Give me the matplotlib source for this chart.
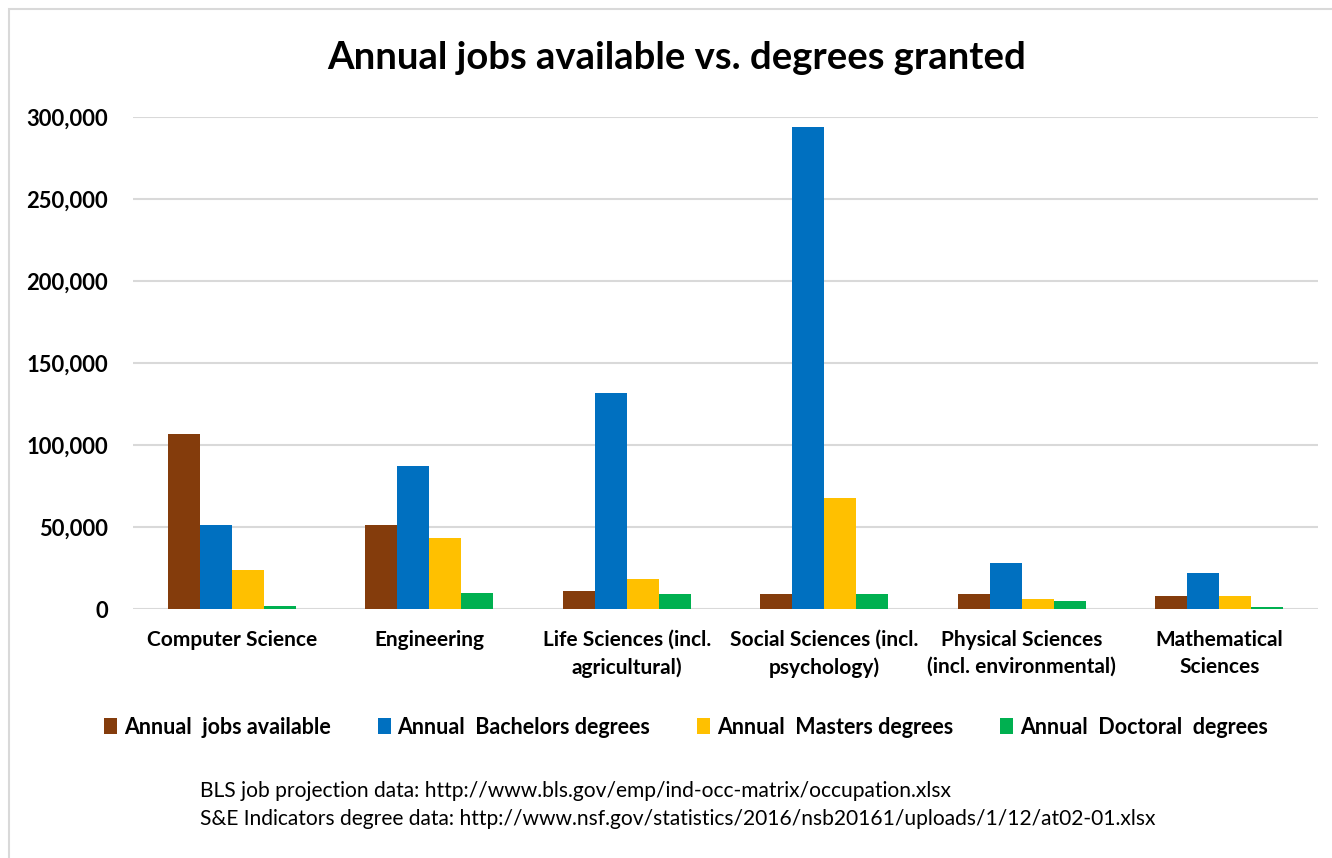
import numpy as np
import matplotlib.pyplot as plt
from matplotlib.patches import Rectangle
from matplotlib.ticker import FuncFormatter

plt.rcParams["font.family"] = ["Lato", "DejaVu Sans"]

categories = [
    "Computer Science",
    "Engineering",
    "Life Sciences (incl.\nagricultural)",
    "Social Sciences (incl.\npsychology)",
    "Physical Sciences\n(incl. environmental)",
    "Mathematical\nSciences",
]
jobs = [107000, 51000, 11000, 9000, 9000, 8000]
bachelors = [51000, 87000, 132000, 294000, 28000, 22000]
masters = [23500, 43500, 18000, 67500, 6000, 8000]
doctoral = [2000, 10000, 9000, 9000, 5000, 1500]

series = [
    ("Annual  jobs available", jobs, "#843C0C"),
    ("Annual  Bachelors degrees", bachelors, "#0070C0"),
    ("Annual  Masters degrees", masters, "#FFC000"),
    ("Annual  Doctoral  degrees", doctoral, "#00B050"),
]

W, H = 1332, 858
fig = plt.figure(figsize=(W / 100, H / 100), dpi=100)

# light chart frame
fig.patches.append(Rectangle((9 / W, -0.1), 1.2, 1 - 9 / H + 0.1,
                             transform=fig.transFigure, fill=False,
                             edgecolor="#d9d9d9", linewidth=1.5))

ax = fig.add_axes([133 / W, 1 - 609 / H, (1318 - 133) / W, (609 - 117) / H])

x = np.arange(len(categories))
bw = 0.162
for i, (label, vals, color) in enumerate(series):
    ax.bar(x + (i - 1.5) * bw, vals, width=bw, color=color, label=label,
           zorder=3)

ax.set_xlim(-0.5, len(categories) - 0.5)
ax.set_ylim(0, 300000)
ax.set_yticks(np.arange(0, 300001, 50000))
ax.yaxis.set_major_formatter(FuncFormatter(lambda v, p: f"{int(v):,}"))
ax.grid(axis="y", color="#d9d9d9", linewidth=1.5, zorder=0)
for s in ax.spines.values():
    s.set_visible(False)
ax.tick_params(axis="y", length=0, pad=18, labelsize=15.8)
ax.tick_params(axis="x", length=0, pad=15, labelsize=15)
for t in ax.get_yticklabels():
    t.set_fontweight("bold")
ax.set_xticks(x)
ax.set_xticklabels(categories, fontweight="bold", linespacing=1.45)

fig.text(677 / W, 1 - 58 / H, "Annual jobs available vs. degrees granted",
         ha="center", va="center", fontsize=27.5, fontweight="bold")

fig.legend(loc="center", bbox_to_anchor=(686 / W, 1 - 727 / H), ncol=4,
           frameon=False, handlelength=0.6, handleheight=0.8,
           handletextpad=0.3, columnspacing=2.2,
           prop={"size": 15.5, "weight": "bold"})

fig.text(200 / W, 1 - 791 / H,
         "BLS job projection data: http://www.bls.gov/emp/ind-occ-matrix/occupation.xlsx",
         ha="left", va="center", fontsize=15.1)
fig.text(200 / W, 1 - 819 / H,
         "S&E Indicators degree data: http://www.nsf.gov/statistics/2016/nsb20161/uploads/1/12/at02-01.xlsx",
         ha="left", va="center", fontsize=15.1)

fig.savefig("out.png", dpi=100)
